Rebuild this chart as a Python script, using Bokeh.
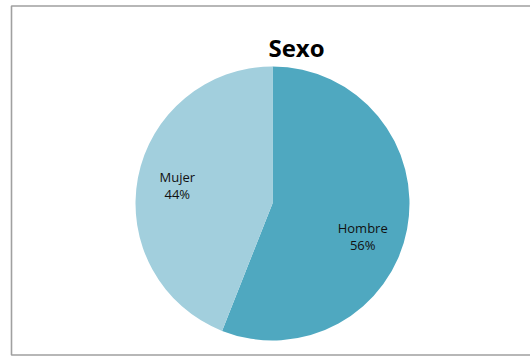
import numpy as np
from bokeh.plotting import figure
from bokeh.models import ColumnDataSource, Range1d
from bokeh.core.properties import value
from bokeh.embed import file_html
from bokeh.resources import INLINE

# ---- data ----
categories = ["Hombre", "Mujer"]
percentages = [56, 44]
colors = ["#4FA8C0", "#A2CFDD"]
title_text = "Sexo"

# ---- layout (pixel-like data space, 1 unit = 1 px) ----
W, H = 530, 356
cx, cy, R = 272, 153, 137
label_r = 0.7
label_nudge_x = [-4, -1]   # Excel-style label placement tweak (px)
label_nudge_y = [-15, 0]

vals = np.array(percentages, dtype=float)
frac = vals / vals.sum()
cum = np.concatenate([[0], np.cumsum(frac)])
start = np.pi / 2 - cum[:-1] * 2 * np.pi
end = np.pi / 2 - cum[1:] * 2 * np.pi
mid = (start + end) / 2
lx = cx + label_r * R * np.cos(mid) + np.array(label_nudge_x)
ly = cy + label_r * R * np.sin(mid) + np.array(label_nudge_y)

src = ColumnDataSource(dict(
    cat=categories, start=start, end=end, color=colors,
    name_y=ly + 8.5, pct_y=ly - 8.5, lx=lx,
    pct=[f"{v:.0f}%" for v in vals],
))

p = figure(width=W, height=H, x_range=Range1d(0, W), y_range=Range1d(0, H),
           output_backend="svg", toolbar_location=None, min_border=0)
p.axis.visible = False
p.grid.visible = False
p.outline_line_color = None
p.background_fill_color = "white"
p.border_fill_color = "white"
p.styles = {"position": "absolute", "left": "0px", "top": "0px"}

# chart border
p.quad(left=[11], right=[800], bottom=[1.5], top=[350.5], fill_color=None,
       line_color="#A0A0A0", line_width=1.6)

p.wedge(x=cx, y=cy, radius=R, start_angle="start", end_angle="end",
        direction="clock", fill_color="color", line_color=None, source=src)

p.text(x="lx", y="name_y", text="cat", source=src, text_align="center",
       text_baseline="middle", text_font=value("Open Sans"),
       text_font_size="13px", text_color="#111111")
p.text(x="lx", y="pct_y", text="pct", source=src, text_align="center",
       text_baseline="middle", text_font=value("Open Sans"),
       text_font_size="13px", text_color="#111111")

p.text(x=[296], y=[309], text=[title_text], text_align="center",
       text_baseline="middle", text_font=value("Open Sans"),
       text_font_size="24px", text_font_style="bold", text_color="#000000")

open("out.html", "w").write(file_html(p, INLINE))
